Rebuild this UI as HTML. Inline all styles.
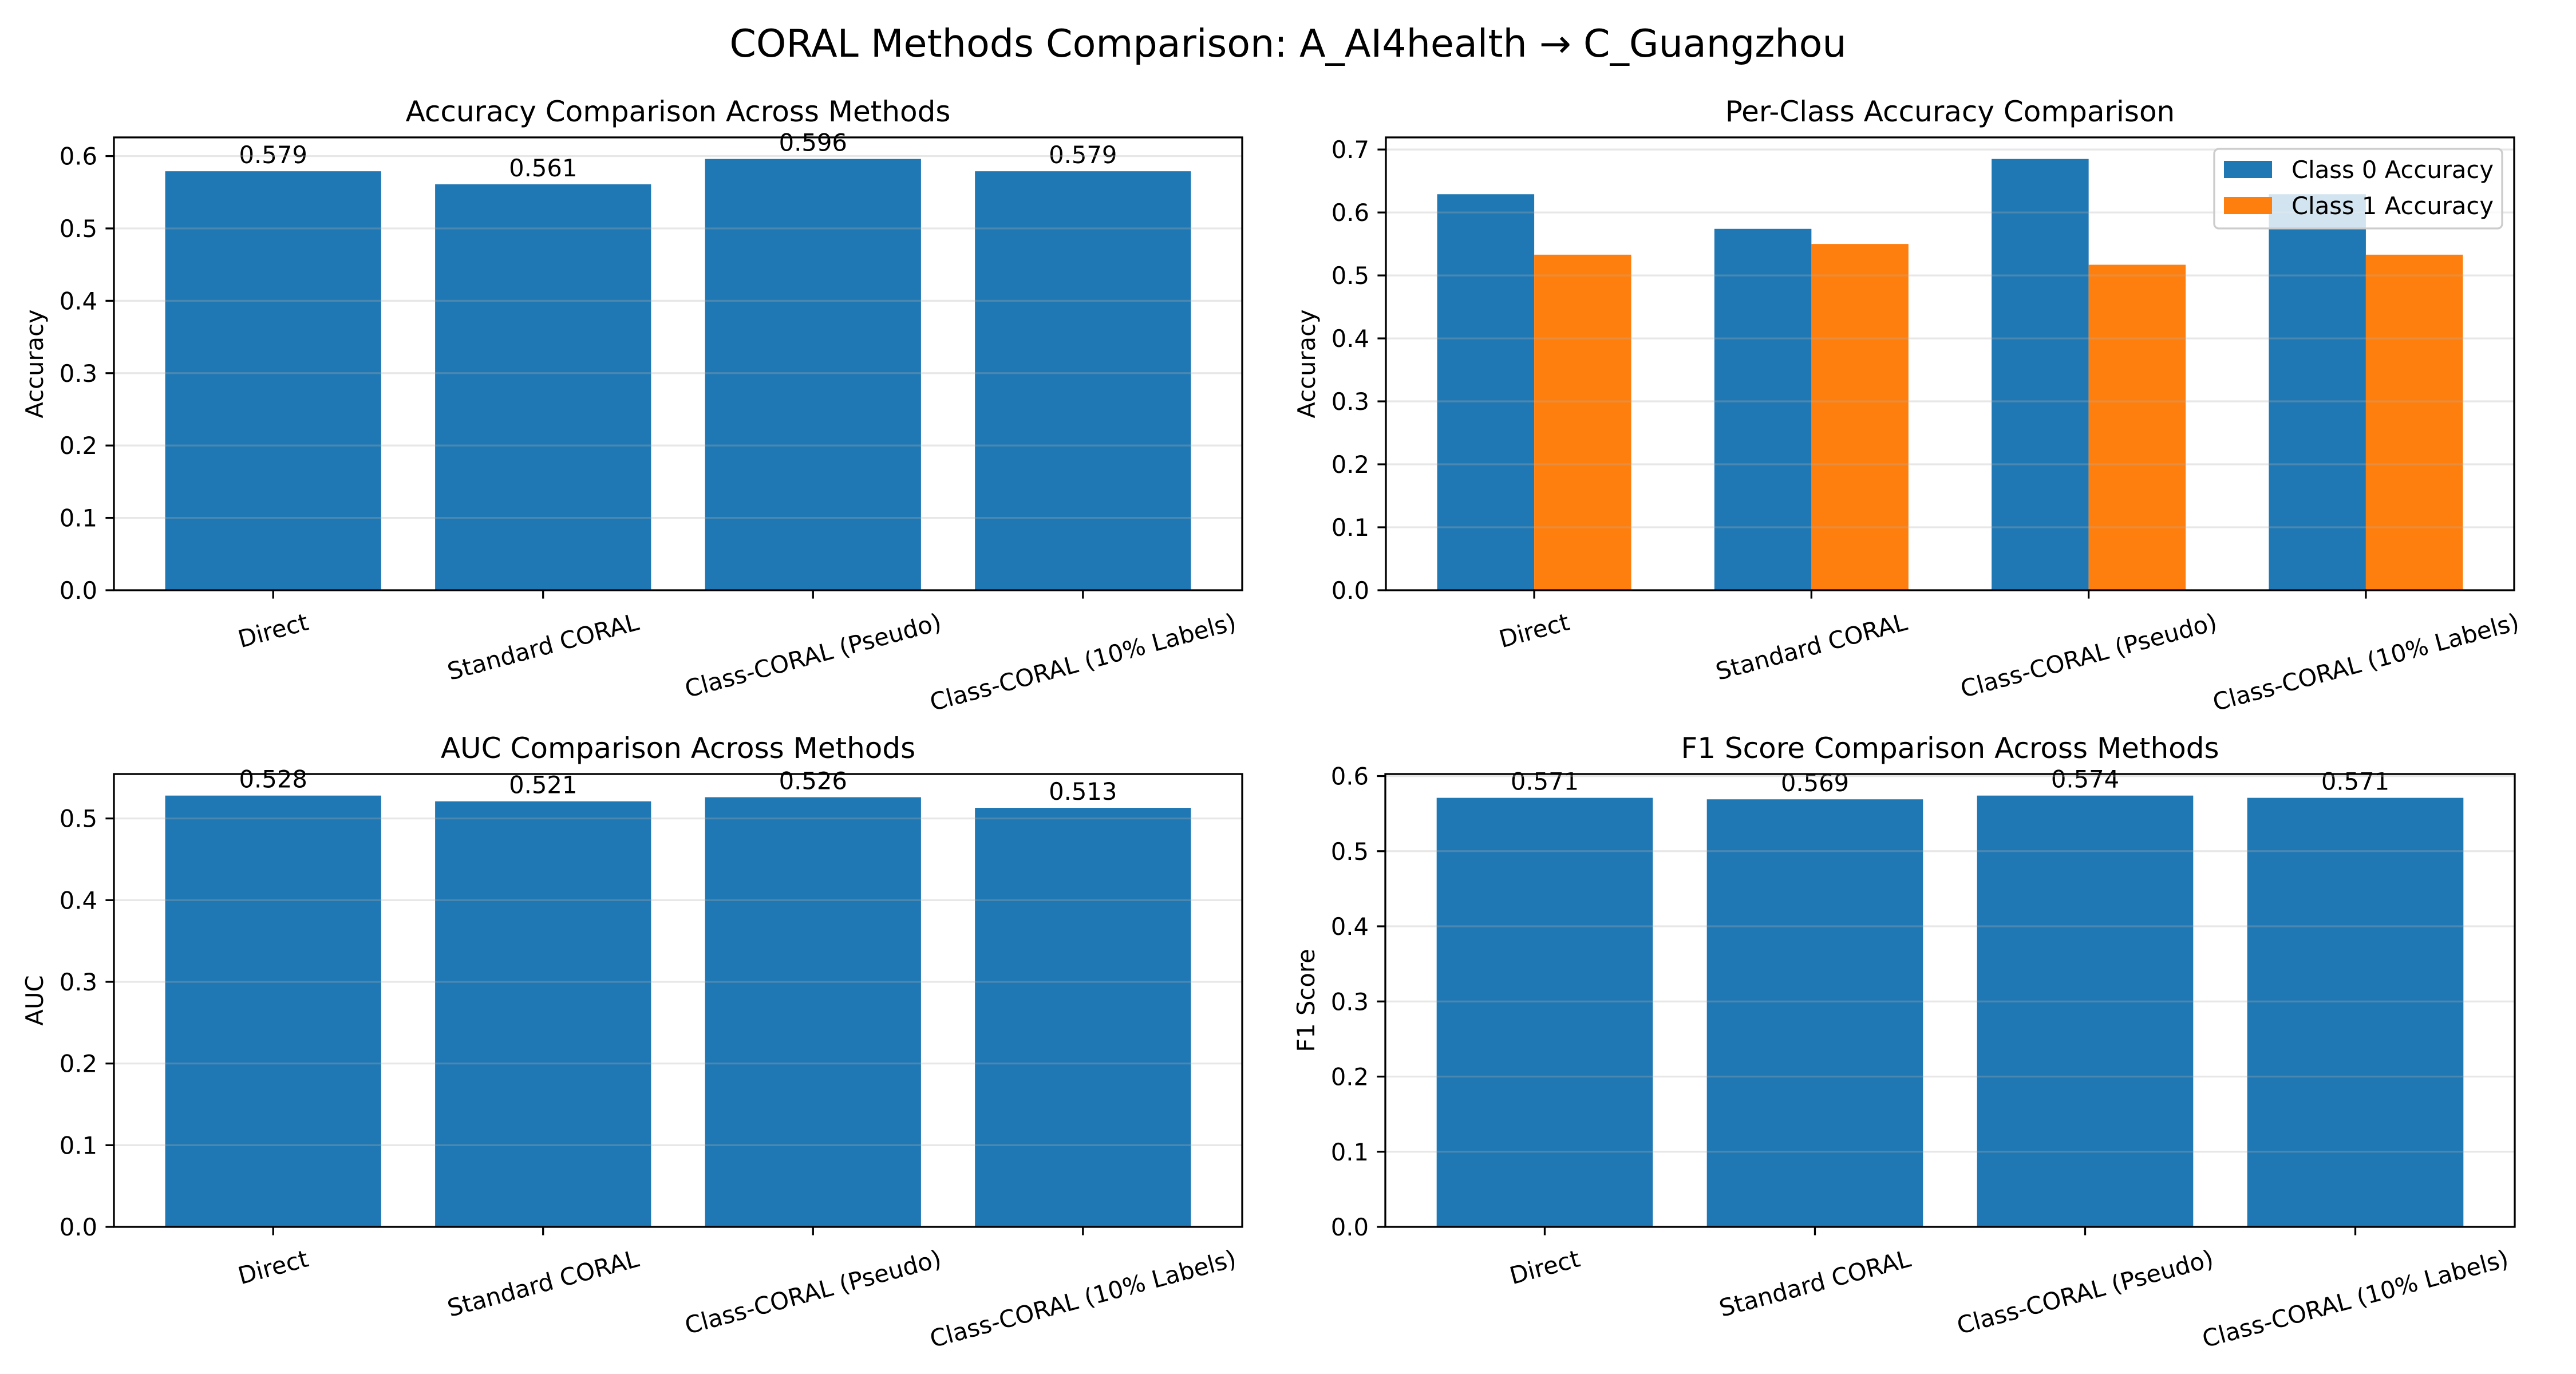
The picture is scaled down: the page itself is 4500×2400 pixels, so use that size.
<!DOCTYPE html>
<html><head><meta charset="utf-8">
<style>
html,body{margin:0;padding:0;background:#fff;}
svg{display:block;font-family:"DejaVu Sans","Liberation Sans",sans-serif;}
</style></head>
<body>
<svg id="fig" width="4500" height="2400" viewBox="0 0 4500 2400" xmlns="http://www.w3.org/2000/svg">
<rect width="4500" height="2400" fill="#fff"/>
<text x="2250" y="99" font-size="66.7" text-anchor="middle">CORAL Methods Comparison: A_AI4health → C_Guangzhou</text>
</svg>
<script>
const methods = ["Direct", "Standard CORAL", "Class-CORAL (Pseudo)", "Class-CORAL (10% Labels)"];
const accuracyValues = [0.579, 0.561, 0.596, 0.579];
const class0Values = [0.629, 0.574, 0.685, 0.629];
const class1Values = [0.533, 0.550, 0.517, 0.533];
const aucValues = [0.528, 0.521, 0.526, 0.513];
const f1Values = [0.571, 0.569, 0.574, 0.571];
const accTicks = ["0.0","0.1","0.2","0.3","0.4","0.5","0.6"];
const perClassTicks = ["0.0","0.1","0.2","0.3","0.4","0.5","0.6","0.7"];
const aucTicks = ["0.0","0.1","0.2","0.3","0.4","0.5"];
const f1Ticks = ["0.0","0.1","0.2","0.3","0.4","0.5","0.6"];

const NS = "http://www.w3.org/2000/svg";
const svg = document.getElementById("fig");
const BLUE = "#1f77b4", ORANGE = "#ff7f0e";
function mk(tag, attrs, parent) {
  const e = document.createElementNS(NS, tag);
  for (const k in attrs) e.setAttribute(k, attrs[k]);
  (parent || svg).appendChild(e);
  return e;
}

function panel(opt) {
  const g = mk("g", {});
  
  
  const L = opt.left, R = opt.right, T = opt.top, B = opt.bottom;
  const series = opt.series;
  let maxV = 0;
  series.forEach(s => s.values.forEach(v => { if (v > maxV) maxV = v; }));
  const ymax = maxV * 1.05;
  const y = v => B - (v / ymax) * (B - T);
  const n = methods.length;
  const totalW = opt.barW * series.length;
  const x0 = -totalW / 2 - 0.05 * (n - 1 + totalW);
  const x1 = n - 1 + totalW / 2 + 0.05 * (n - 1 + totalW);
  const x = v => L + (v - x0) / (x1 - x0) * (R - L);
  series.forEach((s, si) => {
    s.values.forEach((v, i) => {
      const c = i - totalW / 2 + si * opt.barW;
      const r = mk("rect", {x: x(c), y: y(v), width: x(c + opt.barW) - x(c), height: B - y(v), fill: s.color}, g);
      
      
      if (opt.labels) {
        const t = mk("text", {x: x(c + opt.barW / 2), y: y(v) - 14, "font-size": 41.7, "text-anchor": "middle"}, g);
        t.textContent = v.toFixed(3);
        
        
      }
    });
  });
  opt.ticks.forEach(tl => {
    const v = parseFloat(tl);
    const yy = y(v);
    const gl = mk("line", {x1: L, x2: R, y1: yy, y2: yy, stroke: "#b0b0b0", "stroke-opacity": 0.3, "stroke-width": 3.3}, g);
    
    
    mk("line", {x1: L - 14.6, x2: L, y1: yy, y2: yy, stroke: "#000", "stroke-width": 3.3}, g);
    const t = mk("text", {x: L - 29, y: yy + 15, "font-size": 41.7, "text-anchor": "end"}, g);
    t.textContent = tl;
    
    
  });
  methods.forEach((m, i) => {
    const xx = x(i);
    mk("line", {x1: xx, x2: xx, y1: B, y2: B + 14.6, stroke: "#000", "stroke-width": 3.3}, g);
    const t = mk("text", {"font-size": 41.7, "text-anchor": "middle", "dominant-baseline": "central"}, g);
    t.textContent = m;
    
    
    const w = t.getComputedTextLength();
    const h = 48;
    const bh = w * Math.sin(15 * Math.PI / 180) + h * Math.cos(15 * Math.PI / 180);
    const cy = B + 31 + bh / 2;
    t.setAttribute("transform", "translate(" + xx + "," + cy + ") rotate(-15)");
  });
  const f = mk("rect", {x: L, y: T, width: R - L, height: B - T, fill: "none", stroke: "#000", "stroke-width": 3.3}, g);
  
  
  const tt = mk("text", {x: (L + R) / 2, y: T - 28, "font-size": 50, "text-anchor": "middle"}, g);
  tt.textContent = opt.title;
  
  
  const yl = mk("text", {"font-size": 41.7, "text-anchor": "middle", transform: "translate(" + (L - 124) + "," + ((T + B) / 2) + ") rotate(-90)"}, g);
  yl.textContent = opt.ylabel;
  
  
  if (opt.legend) {
    const lg = mk("g", {}, g);
    
    
    mk("rect", {x: 3868, y: 260, width: 503, height: 139, rx: 8, fill: "#fff", "fill-opacity": 0.8, stroke: "#cccccc", "stroke-width": 3.3}, lg);
    series.forEach((s, si) => {
      const yy = 281 + si * 63;
      const e = mk("g", {}, lg);
      
      
      mk("rect", {x: 3885, y: yy, width: 84, height: 30, fill: s.color}, e);
      const t = mk("text", {x: 4003, y: yy + 30, "font-size": 41.7}, e);
      t.textContent = s.label;
    });
  }
}

panel({name: "accuracy-chart", left: 199, right: 2170, top: 240, bottom: 1031, barW: 0.8, labels: true,
  series: [{key: "accuracy", values: accuracyValues, color: BLUE}], ticks: accTicks,
  title: "Accuracy Comparison Across Methods", ylabel: "Accuracy"});
panel({name: "per-class-accuracy-chart", left: 2421, right: 4392, top: 240, bottom: 1031, barW: 0.35, labels: false, legend: true,
  series: [{key: "class0", label: "Class 0 Accuracy", values: class0Values, color: BLUE},
           {key: "class1", label: "Class 1 Accuracy", values: class1Values, color: ORANGE}],
  ticks: perClassTicks, title: "Per-Class Accuracy Comparison", ylabel: "Accuracy"});
panel({name: "auc-chart", left: 199, right: 2170, top: 1352, bottom: 2143, barW: 0.8, labels: true,
  series: [{key: "auc", values: aucValues, color: BLUE}], ticks: aucTicks,
  title: "AUC Comparison Across Methods", ylabel: "AUC"});
panel({name: "f1-chart", left: 2420, right: 4393, top: 1352, bottom: 2143, barW: 0.8, labels: true,
  series: [{key: "f1", values: f1Values, color: BLUE}], ticks: f1Ticks,
  title: "F1 Score Comparison Across Methods", ylabel: "F1 Score"});
</script>
</body></html>
